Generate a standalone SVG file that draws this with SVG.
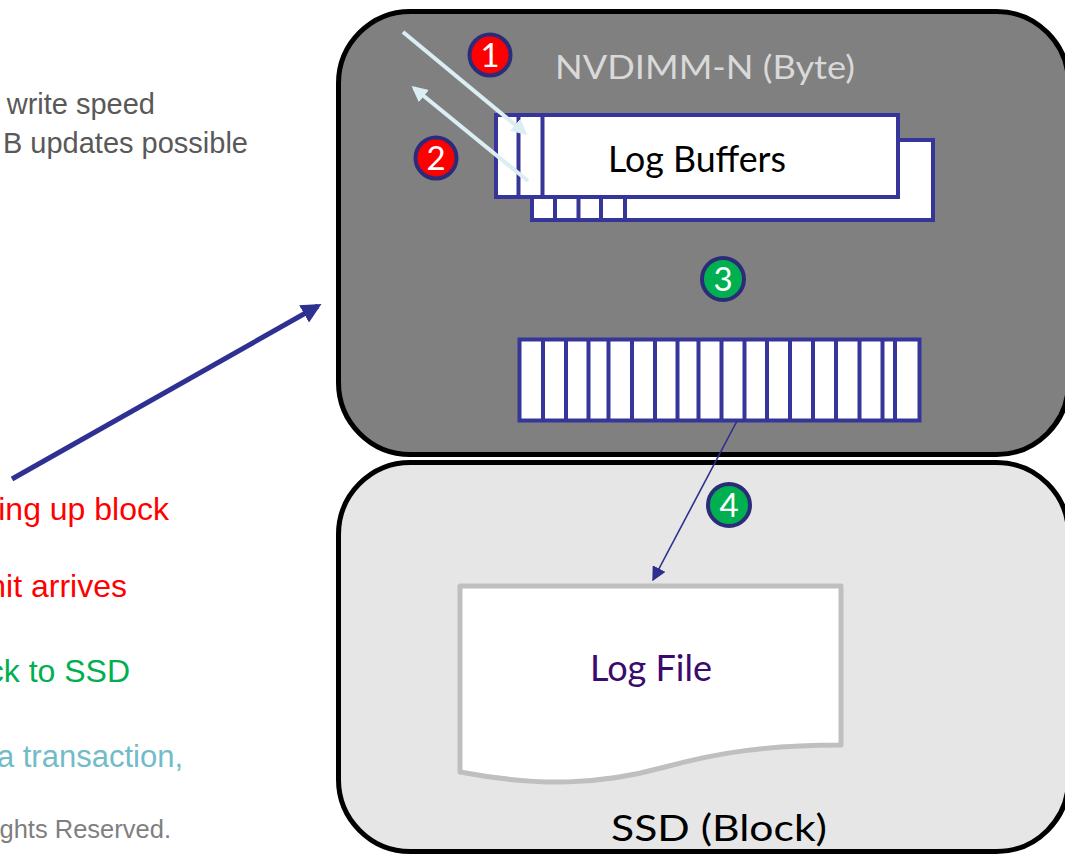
<svg xmlns="http://www.w3.org/2000/svg" width="1065" height="855" viewBox="0 0 1065 855">
  <defs>
    <style>
      .gs { font-family: Lato, "Open Sans", "DejaVu Sans", sans-serif; }
      .ar { font-family: "Liberation Sans", Arial, sans-serif; }
      .buf { fill: #ffffff; stroke: #35359a; stroke-width: 4; }
      .div { stroke: #35359a; stroke-width: 4; }
      .badge { stroke: #2b2b7a; stroke-width: 4; }
      .num { font-family: Lato, "Open Sans", sans-serif; font-size: 33px; fill: #ffffff; text-anchor: middle; }
    </style>
    <marker id="navyHead" viewBox="0 0 10 10" refX="8" refY="5" markerWidth="4" markerHeight="4" orient="auto" markerUnits="strokeWidth">
      <path d="M0,0 L10,5 L0,10 z" fill="#2e3192"/>
    </marker>
    <marker id="navyHeadThin" viewBox="0 0 10 10" refX="9" refY="5" markerWidth="9" markerHeight="9" orient="auto" markerUnits="strokeWidth">
      <path d="M0,0 L10,5 L0,10 z" fill="#2e2e8e"/>
    </marker>
    <marker id="lightHead" viewBox="0 0 10 10" refX="8" refY="5" markerWidth="4" markerHeight="4" orient="auto" markerUnits="strokeWidth">
      <path d="M0,0 L10,5 L0,10 z" fill="#daeef3"/>
    </marker>
  </defs>

  <rect width="1065" height="855" fill="#ffffff"/>

  <!-- left-side text (cut off at the left edge) -->
  <g id="left-text" class="ar" text-anchor="end">
    <text x="155" y="114" font-size="29" fill="#595959">write speed</text>
    <text x="248" y="153" font-size="29" fill="#595959">B updates possible</text>
    <text x="169" y="520" font-size="32" fill="#ff0000">ing up block</text>
    <text x="127" y="597" font-size="32" fill="#ff0000">nit arrives</text>
    <text x="130" y="682" font-size="32" fill="#00b050">ck to SSD</text>
    <text x="183" y="767" font-size="31" fill="#71bcc8">a transaction,</text>
    <text x="171" y="838" font-size="25.5" fill="#7f7f7f">ghts Reserved.</text>
  </g>

  <!-- NVDIMM-N container -->
  <g id="nvdimm">
    <rect x="338.5" y="11.5" width="730" height="443" rx="72" fill="#808080" stroke="#000000" stroke-width="5"/>
    <text class="gs" x="705" y="79" font-size="33" fill="#d9d9d9" text-anchor="middle" textLength="300" lengthAdjust="spacingAndGlyphs">NVDIMM-N (Byte)</text>
  </g>

  <!-- SSD container -->
  <g id="ssd">
    <rect x="338.5" y="462.5" width="730" height="389" rx="72" fill="#e6e6e6" stroke="#000000" stroke-width="5"/>
    <text class="gs" x="719" y="841" font-size="37" fill="#000000" text-anchor="middle" textLength="216" lengthAdjust="spacingAndGlyphs">SSD (Block)</text>
  </g>

  <!-- Log buffers -->
  <g id="log-buffers">
    <rect class="buf" x="532" y="140" width="401" height="80"/>
    <line class="div" x1="555" y1="140" x2="555" y2="220"/>
    <line class="div" x1="578.5" y1="140" x2="578.5" y2="220"/>
    <line class="div" x1="601" y1="140" x2="601" y2="220"/>
    <line class="div" x1="625" y1="140" x2="625" y2="220"/>
    <rect class="buf" x="496" y="115" width="402" height="82"/>
    <line class="div" x1="518.5" y1="115" x2="518.5" y2="197"/>
    <line class="div" x1="542.5" y1="115" x2="542.5" y2="197"/>
    <text class="gs" x="697" y="172" font-size="36" fill="#000000" text-anchor="middle" textLength="178" lengthAdjust="spacingAndGlyphs">Log Buffers</text>
  </g>

  <!-- Block buffer -->
  <g id="block-buffer">
    <rect class="buf" x="519.5" y="339.5" width="400" height="81" stroke-width="5"/>
    <g class="div">
      <line x1="543" y1="340" x2="543" y2="420"/>
      <line x1="566" y1="340" x2="566" y2="420"/>
      <line x1="588.5" y1="340" x2="588.5" y2="420"/>
      <line x1="608.5" y1="340" x2="608.5" y2="420"/>
      <line x1="632" y1="340" x2="632" y2="420"/>
      <line x1="655" y1="340" x2="655" y2="420"/>
      <line x1="677.5" y1="340" x2="677.5" y2="420"/>
      <line x1="698.5" y1="340" x2="698.5" y2="420"/>
      <line x1="721.5" y1="340" x2="721.5" y2="420"/>
      <line x1="744.5" y1="340" x2="744.5" y2="420"/>
      <line x1="767" y1="340" x2="767" y2="420"/>
      <line x1="790" y1="340" x2="790" y2="420"/>
      <line x1="813" y1="340" x2="813" y2="420"/>
      <line x1="836" y1="340" x2="836" y2="420"/>
      <line x1="859.5" y1="340" x2="859.5" y2="420"/>
      <line x1="882.5" y1="340" x2="882.5" y2="420"/>
      <line x1="895" y1="340" x2="895" y2="420"/>
    </g>
  </g>

  <!-- Log file -->
  <g id="log-file">
    <path d="M460,586 L841,586 L841,745 C 770,745 720,752 665,767 C 600,785 540,787 460,772 Z" fill="#ffffff" stroke="#bfbfbf" stroke-width="5" stroke-linejoin="round"/>
    <text class="gs" x="651" y="681" font-size="36" fill="#3b0a6e" text-anchor="middle" textLength="122" lengthAdjust="spacingAndGlyphs">Log File</text>
  </g>

  <!-- connectors -->
  <g id="connectors" fill="none">
    <line x1="12" y1="479" x2="318" y2="306" stroke="#2e3192" stroke-width="5" marker-end="url(#navyHead)"/>
    <line x1="403" y1="32" x2="525" y2="133" stroke="#daeef3" stroke-width="4" marker-end="url(#lightHead)"/>
    <line x1="528" y1="181" x2="414" y2="88" stroke="#daeef3" stroke-width="4" marker-end="url(#lightHead)"/>
    <line x1="737" y1="421" x2="653" y2="580" stroke="#2e2e8e" stroke-width="1.6" marker-end="url(#navyHeadThin)"/>
  </g>

  <!-- step badges -->
  <g id="badge-1">
    <circle class="badge" cx="490" cy="55" r="20.5" fill="#ff0000"/>
    <text class="num" x="490" y="67">1</text>
  </g>
  <g id="badge-2">
    <circle class="badge" cx="436" cy="158" r="20.5" fill="#ff0000"/>
    <text class="num" x="436" y="170">2</text>
  </g>
  <g id="badge-3">
    <circle class="badge" cx="723" cy="279" r="21" fill="#00b050"/>
    <text class="num" x="723" y="291">3</text>
  </g>
  <g id="badge-4">
    <circle class="badge" cx="729" cy="505" r="21" fill="#00b050"/>
    <text class="num" x="729" y="517">4</text>
  </g>
</svg>
